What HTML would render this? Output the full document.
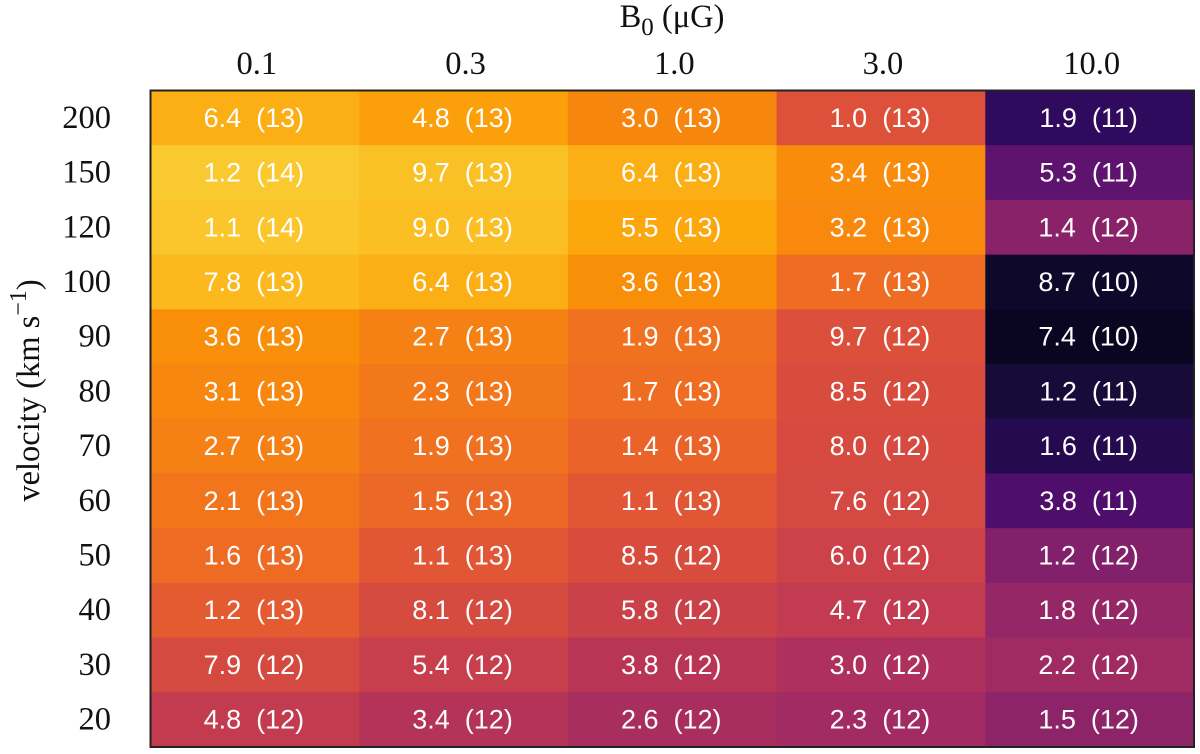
<!DOCTYPE html>
<html>
<head>
<meta charset="utf-8">
<title>Heatmap of velocity against B0</title>
<style>
html,body{margin:0;padding:0;background:#fff;}
svg{display:block;}
.tick{font-family:"Liberation Serif",serif;font-size:32.5px;fill:#111;}
.cell-label{font-family:"Liberation Sans",sans-serif;font-size:27px;fill:#fff;text-anchor:middle;white-space:pre;}
</style>
</head>
<body>
<svg id="chart" width="1200" height="754" viewBox="0 0 1200 754" xmlns="http://www.w3.org/2000/svg">
  <text x="672" y="27" text-anchor="middle" font-family="'Liberation Serif',serif" font-size="32.5" fill="#111">B<tspan dy="8" font-size="25">0</tspan><tspan dy="-8"> (μG)</tspan></text>
  <text transform="translate(39,390.5) rotate(-90)" text-anchor="middle" font-family="'Liberation Serif',serif" font-size="32.5" fill="#111">velocity (km s<tspan dy="-13" font-size="24">−1</tspan><tspan dy="13">)</tspan></text>
  <g id="cells"></g>
  <g id="labels"></g>
  <g id="x-ticks"></g>
  <g id="y-ticks"></g>
  <rect x="150.5" y="90.5" width="1043.5" height="656.5" fill="none" stroke="#222" stroke-width="2"></rect>
</svg>
<script>
const fieldLabels = ['0.1', '0.3', '1.0', '3.0', '10.0'];
const velocityLabels = ['200', '150', '120', '100', '90', '80', '70', '60', '50', '40', '30', '20'];
// Printed mantissas, by row (velocity) then column (B0)
const mantissas = [
  [6.4, 4.8, 3.0, 1.0, 1.9],
  [1.2, 9.7, 6.4, 3.4, 5.3],
  [1.1, 9.0, 5.5, 3.2, 1.4],
  [7.8, 6.4, 3.6, 1.7, 8.7],
  [3.6, 2.7, 1.9, 9.7, 7.4],
  [3.1, 2.3, 1.7, 8.5, 1.2],
  [2.7, 1.9, 1.4, 8.0, 1.6],
  [2.1, 1.5, 1.1, 7.6, 3.8],
  [1.6, 1.1, 8.5, 6.0, 1.2],
  [1.2, 8.1, 5.8, 4.7, 1.8],
  [7.9, 5.4, 3.8, 3.0, 2.2],
  [4.8, 3.4, 2.6, 2.3, 1.5]
];
// Printed exponents, same layout
const exponents = [
  [13, 13, 13, 13, 11],
  [14, 13, 13, 13, 11],
  [14, 13, 13, 13, 12],
  [13, 13, 13, 13, 10],
  [13, 13, 13, 12, 10],
  [13, 13, 13, 12, 11],
  [13, 13, 13, 12, 11],
  [13, 13, 13, 12, 11],
  [13, 13, 12, 12, 12],
  [13, 12, 12, 12, 12],
  [12, 12, 12, 12, 12],
  [12, 12, 12, 12, 12]
];
const infernoStops = ['#000004','#0b0724','#160b39','#2f0a5b','#420a68','#57106e','#6a176e','#7f1e6c','#932667','#a82e5f','#bc3754','#cf4446','#dd513a','#ed6925','#f37819','#f98e09','#fca50a','#fbbb20','#f9ca30','#f4ed6c','#fcffa4'];

const NS = 'http://www.w3.org/2000/svg';
const plot = { left: 150.5, right: 1194, top: 90.5, bottom: 747 };
const xBand = (plot.right - plot.left) / fieldLabels.length;
const yBand = (plot.bottom - plot.top) / velocityLabels.length;
function xScale(col) { return plot.left + col * xBand; }
function yScale(row) { return plot.top + row * yBand; }
function colorPosition(value) {
  const lg = Math.log10(value);
  if (lg > 13) return 0.6 + (lg - 13) * 0.275;
  return 0.046 + (lg - 10.87) * 0.26;
}
function hexToRgb(h) { return [1, 3, 5].map(function (i) { return parseInt(h.substr(i, 2), 16); }); }
function colorScale(value) {
  const t = Math.max(0, Math.min(1, colorPosition(value))) * (infernoStops.length - 1);
  const i = Math.min(Math.floor(t), infernoStops.length - 2);
  const a = hexToRgb(infernoStops[i]);
  const b = hexToRgb(infernoStops[i + 1]);
  const f = t - i;
  return 'rgb(' + a.map(function (v, k) { return Math.round(v + (b[k] - v) * f); }).join(',') + ')';
}

const cellsGroup = document.getElementById('cells');
const labelsGroup = document.getElementById('labels');
const xTicksGroup = document.getElementById('x-ticks');
const yTicksGroup = document.getElementById('y-ticks');

mantissas.forEach(function (rowValues, row) {
  rowValues.forEach(function (m, col) {
    const exp = exponents[row][col];
    const rect = document.createElementNS(NS, 'rect');
    
    
    rect.setAttribute('x', xScale(col));
    rect.setAttribute('y', yScale(row));
    rect.setAttribute('width', xBand + 0.5);
    rect.setAttribute('height', yBand + 0.5);
    rect.setAttribute('fill', colorScale(m * Math.pow(10, exp)));
    cellsGroup.appendChild(rect);

    const label = document.createElementNS(NS, 'text');
    
    
    label.setAttribute('class', 'cell-label');
    label.setAttribute('x', xScale(col) + xBand / 2 - 1);
    label.setAttribute('y', yScale(row) + yBand / 2 + 9);
    label.textContent = m.toFixed(1) + '  (' + exp + ')';
    labelsGroup.appendChild(label);
  });
});

fieldLabels.forEach(function (text, col) {
  const tick = document.createElementNS(NS, 'text');
  
  
  tick.setAttribute('class', 'tick');
  tick.setAttribute('text-anchor', 'middle');
  tick.setAttribute('x', xScale(col) + xBand / 2 + 2);
  tick.setAttribute('y', 74);
  tick.textContent = text;
  xTicksGroup.appendChild(tick);
});

velocityLabels.forEach(function (text, row) {
  const tick = document.createElementNS(NS, 'text');
  
  
  tick.setAttribute('class', 'tick');
  tick.setAttribute('text-anchor', 'end');
  tick.setAttribute('x', 111);
  tick.setAttribute('y', yScale(row) + yBand / 2 + 10);
  tick.textContent = text;
  yTicksGroup.appendChild(tick);
});
</script>
</body>
</html>
